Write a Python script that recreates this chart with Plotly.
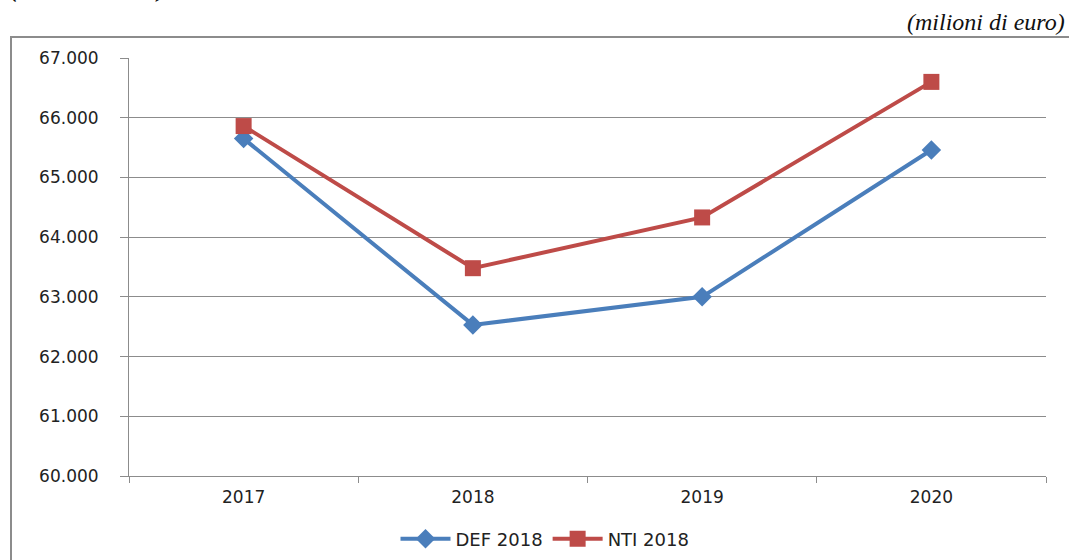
import plotly.graph_objects as go

years = ["2017", "2018", "2019", "2020"]
def_2018 = [65650, 62530, 63000, 65460]
nti_2018 = [65860, 63480, 64330, 66600]
y_ticks = [60000, 61000, 62000, 63000, 64000, 65000, 66000, 67000]

blue = "#4A7EBB"
red = "#BE4B48"
grid = "#8C8C8C"

fig = go.Figure()
fig.add_trace(go.Scatter(x=years, y=def_2018, name="DEF 2018", mode="lines+markers",
                         line=dict(color=blue, width=4),
                         marker=dict(symbol="diamond", size=15, color=blue)))
fig.add_trace(go.Scatter(x=years, y=nti_2018, name="NTI 2018", mode="lines+markers",
                         line=dict(color=red, width=4),
                         marker=dict(symbol="square", size=16, color=red)))

L, R, T, B = 129, 1046, 58, 476
W, H = 1069, 560
def px(x): return (x - L) / (R - L)
def py(y): return (B - y) / (B - T)

fig.update_layout(
    width=W, height=H,
    margin=dict(l=L, r=W - R, t=T, b=H - B, autoexpand=False),
    paper_bgcolor="white", plot_bgcolor="white",
    separators=",.",
    font=dict(family="DejaVu Sans", size=16, color="#222"),
    showlegend=True,
    legend=dict(orientation="h", x=px(545), xanchor="center", y=py(539), yanchor="middle",
                font=dict(size=18, family="DejaVu Sans"), itemwidth=50,
                bgcolor="rgba(0,0,0,0)"),
    xaxis=dict(type="category", range=[-0.5, 3.5], showgrid=False,
               showline=True, linecolor=grid, linewidth=1,
               ticks="outside", tickson="boundaries", ticklen=6, tickcolor=grid,
               ticklabelstandoff=6,
               tickfont=dict(size=17, family="DejaVu Sans"), fixedrange=True),
    yaxis=dict(range=[60000, 67000], tickvals=y_ticks, tickformat=",d",
               showgrid=True, gridcolor=grid, gridwidth=1,
               showline=True, linecolor=grid, linewidth=1,
               ticks="outside", ticklen=8, tickcolor=grid, ticklabelstandoff=18,
               tickfont=dict(size=17, family="DejaVu Sans"), zeroline=False),
    shapes=[dict(type="rect", xref="paper", yref="paper",
                 x0=px(11), x1=px(1080), y0=py(575), y1=py(37),
                 line=dict(color="#8C8C8C", width=2), fillcolor="rgba(0,0,0,0)", layer="below")],
    annotations=[
        dict(text="<i>(milioni di euro)</i>", xref="paper", yref="paper",
             x=px(1067), y=py(22), xanchor="right", yanchor="middle", showarrow=False,
             font=dict(family="Liberation Serif", size=24, color="#111")),
        dict(text="<i><b>(valori assoluti)</b></i>", xref="paper", yref="paper",
             x=px(8), y=py(4), xanchor="left", yanchor="bottom", showarrow=False,
             font=dict(family="Liberation Serif", size=24, color="#111")),
    ],
)

fig.write_html("out.html", config={"displayModeBar": False},
               post_script="document.body.style.margin='0';document.body.style.overflow='hidden';")
